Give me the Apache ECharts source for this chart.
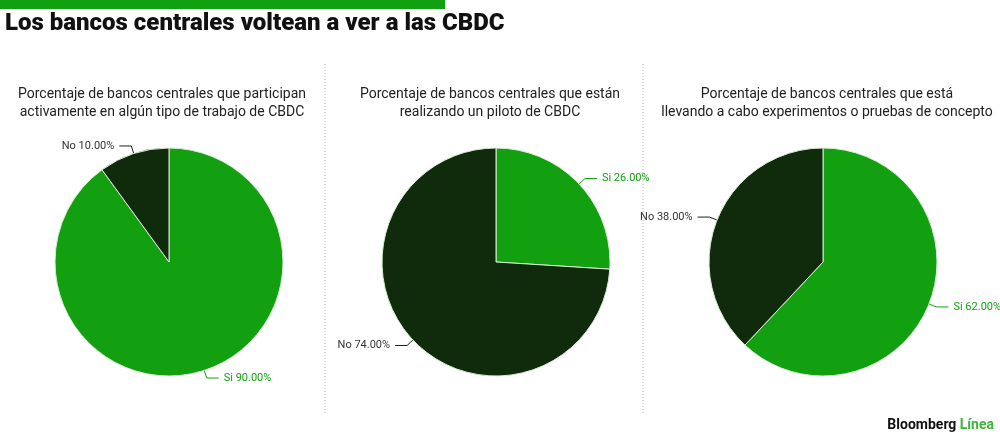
<!DOCTYPE html>
<html>
<head>
<meta charset="utf-8">
<script src="https://cdn.jsdelivr.net/npm/echarts@6/dist/echarts.min.js"></script>
<style>
  html, body { margin: 0; padding: 0; background: #fff; }
  #chart { width: 1000px; height: 437px; }
</style>
</head>
<body>
<div id="chart"></div>
<script>
// datos
const categories = ['Si', 'No']
const participan = [90, 10]
const piloto = [26, 74]
const experimentos = [62, 38]
const subtitles = [
  'Porcentaje de bancos centrales que participan\nactivamente en algún tipo de trabajo de CBDC',
  'Porcentaje de bancos centrales que están\nrealizando un piloto de CBDC',
  'Porcentaje de bancos centrales que está\nllevando a cabo experimentos o pruebas de concepto'
]

const GREEN = '#12a010'
const DARK = '#0f2b0c'
const FONT = 'Roboto'

const chart = echarts.init(document.getElementById('chart'))

const centersX = [169, 496, 823]

function makePie(values, cx) {
  return {
    type: 'pie',
    center: [cx, 262],
    radius: 114,
    startAngle: 90,
    clockwise: true,
    animation: false,
    itemStyle: { borderColor: '#d8ecd4', borderWidth: 1 },
    label: {
      show: true,
      position: 'outside',
      fontFamily: FONT,
      fontSize: 11,
      color: 'inherit',
      overflow: 'none',
      edgeDistance: 2,
      formatter: p => p.name + ' ' + p.value.toFixed(2) + '%'
    },
    labelLine: { show: true, length: 8, length2: 12, lineStyle: { width: 1 } },
    emphasis: { disabled: true },
    data: values.map((v, i) => ({
      name: categories[i],
      value: v,
      itemStyle: { color: i === 0 ? GREEN : DARK },
      label: { color: i === 0 ? GREEN : '#333' }
    }))
  }
}

const option = {
  backgroundColor: '#fff',
  title: subtitles.map((t, i) => ({
    text: t,
    left: [157, 485, 822][i],
    top: 80,
    textAlign: 'center',
    textStyle: {
      fontFamily: FONT,
      fontWeight: 'normal',
      fontSize: 14,
      lineHeight: 18,
      color: '#222'
    }
  })),
  graphic: [
    { type: 'rect', shape: { x: 0, y: 0, width: 445, height: 9 }, style: { fill: '#10a010' } },
    {
      type: 'text', left: 5, top: 12,
      style: { text: 'Los bancos centrales voltean a ver a las CBDC', font: '900 24px ' + FONT, fill: '#111' }
    },
    {
      type: 'line', shape: { x1: 325, y1: 64, x2: 325, y2: 413 },
      style: { stroke: '#b5b5b5', lineWidth: 1, lineDash: [1, 2] }
    },
    {
      type: 'line', shape: { x1: 643, y1: 64, x2: 643, y2: 413 },
      style: { stroke: '#b5b5b5', lineWidth: 1, lineDash: [1, 2] }
    },
    {
      type: 'text', right: 6, top: 418,
      style: {
        text: '{a|Bloomberg} {b|Línea}',
        rich: {
          a: { font: 'bold 14px ' + FONT, fill: '#111' },
          b: { font: 'bold 14px ' + FONT, fill: '#3db53d' }
        }
      }
    }
  ],
  series: [
    makePie(participan, centersX[0]),
    makePie(piloto, centersX[1]),
    makePie(experimentos, centersX[2])
  ]
}

chart.setOption(option)
</script>
</body>
</html>
